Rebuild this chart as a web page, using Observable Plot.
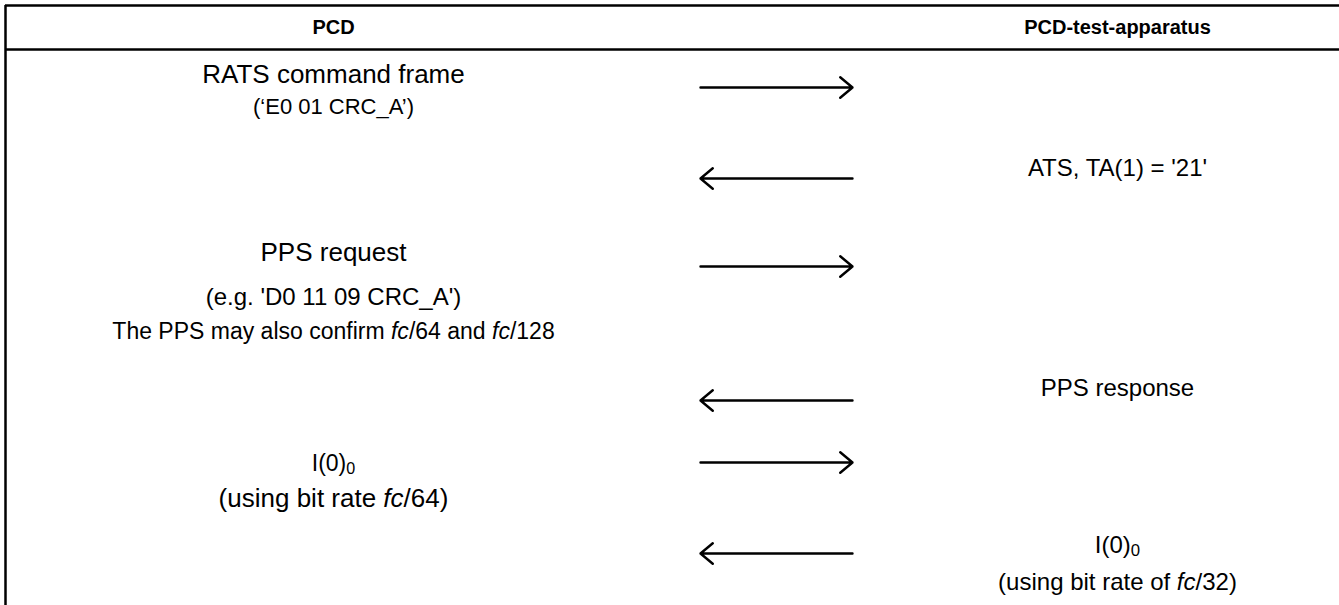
<!DOCTYPE html>
<html>
<head>
<meta charset="utf-8">
<script src="https://cdn.jsdelivr.net/npm/d3@7"></script>
<script src="https://cdn.jsdelivr.net/npm/@observablehq/plot@0.6"></script>
<style>
  html, body { margin: 0; padding: 0; background: #fff; }
  svg { display: block; font-family: "Liberation Sans", Arial, sans-serif; }
</style>
</head>
<body>
<div id="chart"></div>
<script>
// ---- Content ----
const headers = ["PCD", "PCD-test-apparatus"];
const pcdTexts = [
  "RATS command frame",
  "(\u2018E0 01 CRC_A\u2019)",
  "PPS request",
  "(e.g. 'D0 11 09 CRC_A')",
  "The PPS may also confirm *fc*/64 and *fc*/128",
  "I(0)~0~",
  "(using bit rate *fc*/64)"
];
const pcdSizes = [26, 22, 26, 24, 23, 23, 26];
const pcdRows = [74, 106, 252, 297, 331, 463, 498];

const apparatusTexts = [
  "ATS, TA(1) = '21'",
  "PPS response",
  "I(0)~0~",
  "(using bit rate of *fc*/32)"
];
const apparatusSizes = [24, 24, 24, 24];
const apparatusRows = [168, 388, 545, 582];

const arrowDirs = ["right", "left", "right", "left", "right", "left"];
const arrowRows = [87, 178, 266, 400, 462, 553];

// ---- Layout (diagram coordinates) ----
const W = 1339, H = 605;
const colX = {"PCD": 333, "PCD-test-apparatus": 1117};
const arrowSpan = [700, 852];
const tableTop = 5, headerBottom = 49, tableLeft = 5;

const headerData = headers.map(h => ({text: h, x: colX[h], y: 27}));
const textData = [
  ...pcdTexts.map((t, i) => ({text: t, x: colX["PCD"], y: pcdRows[i], size: pcdSizes[i]})),
  ...apparatusTexts.map((t, i) => ({text: t, x: colX["PCD-test-apparatus"], y: apparatusRows[i], size: apparatusSizes[i]}))
];
const arrowData = arrowDirs.map((d, i) => ({
  x1: d === "right" ? arrowSpan[0] : arrowSpan[1],
  x2: d === "right" ? arrowSpan[1] : arrowSpan[0],
  y: arrowRows[i]
}));

const textMarks = d3.groups(textData, d => d.size).map(([size, rows]) =>
  Plot.text(rows, {x: "x", y: "y", text: "text", fontSize: size, fill: "black", textAnchor: "middle"})
);

const chart = Plot.plot({
  width: W,
  height: H,
  margin: 0,
  style: {fontFamily: "'Liberation Sans', Arial, sans-serif", background: "white"},
  x: {domain: [0, W], range: [0, W], axis: null},
  y: {domain: [0, H], range: [0, H], axis: null},
  marks: [
    Plot.ruleY([tableTop, headerBottom], {x1: tableLeft, x2: W, stroke: "black", strokeWidth: 2.5}),
    Plot.ruleX([tableLeft], {y1: tableTop, y2: H, stroke: "black", strokeWidth: 2.5}),
    Plot.text(headerData, {x: "x", y: "y", text: "text", fontSize: 20, fontWeight: "bold", fill: "black"}),
    ...textMarks,
    Plot.arrow(arrowData, {x1: "x1", x2: "x2", y1: "y", y2: "y", stroke: "black", strokeWidth: 2.4, headLength: 10, headAngle: 80})
  ]
});

// Rich text: *italic* and ~subscript~
d3.select(chart).selectAll("text").each(function() {
  const el = d3.select(this);
  if (el.selectAll("tspan").size() > 0) return;
  const s = el.text();
  if (!/[*~]/.test(s)) return;
  el.text(null);
  const parts = s.split(/(\*[^*]+\*|~[^~]+~)/).filter(p => p.length);
  for (const p of parts) {
    if (p.startsWith("*")) {
      el.append("tspan").attr("font-style", "italic").text(p.slice(1, -1));
    } else if (p.startsWith("~")) {
      el.append("tspan").attr("font-size", "0.7em").attr("baseline-shift", "-20%").text(p.slice(1, -1));
    } else {
      el.append("tspan").text(p);
    }
  }
});

document.getElementById("chart").appendChild(chart);
</script>
</body>
</html>
